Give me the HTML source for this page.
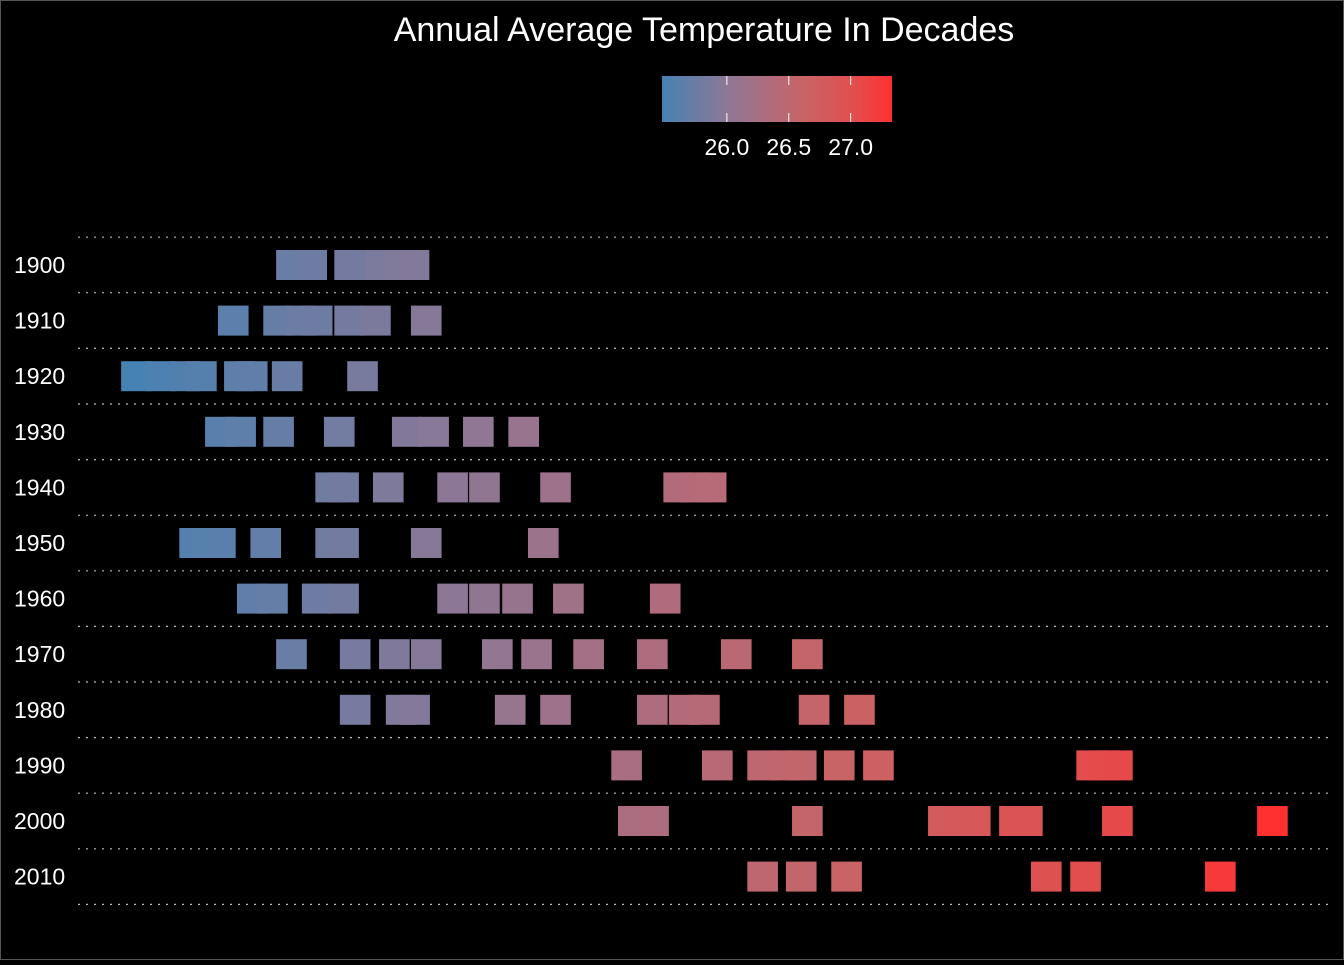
<!DOCTYPE html>
<html><head><meta charset="utf-8"><style>
html,body{margin:0;padding:0;background:#000;}
#wrap{width:1344px;height:960px;position:relative;background:#000;}
svg text{font-family:"Liberation Sans",sans-serif;fill:#fff;}
</style></head><body>
<div id="wrap">
<svg id="chart" width="1344" height="960">
<rect x="0.5" y="0.5" width="1343" height="959" fill="#000" stroke="#555"/>
<text x="704" y="41" font-size="34" text-anchor="middle">Annual Average Temperature In Decades</text>
<defs><linearGradient id="lg" x1="0" x2="1" y1="0" y2="0">
<stop offset="0" stop-color="#4682b4"/><stop offset="0.28" stop-color="#8c7896"/><stop offset="0.5" stop-color="#b66a78"/><stop offset="0.62" stop-color="#c86466"/><stop offset="0.85" stop-color="#e44c4c"/><stop offset="1" stop-color="#ff3030"/>
</linearGradient></defs>
<g id="legend">
<rect x="662" y="76" width="230" height="46" fill="url(#lg)"/>
</g>
<g id="grid"></g><g id="tiles"></g><g id="labels"></g>
</svg></div>
<script>
const decades = ["1900","1910","1920","1930","1940","1950","1960","1970","1980","1990","2000","2010"];
const temps1900 = [25.733,25.766,25.828,25.878,25.905,25.933];
const temps1910 = [25.638,25.712,25.748,25.775,25.828,25.870,25.953];
const temps1920 = [25.480,25.520,25.560,25.586,25.648,25.669,25.726,25.849];
const temps1930 = [25.617,25.650,25.712,25.811,25.922,25.965,26.038,26.112];
const temps1940 = [25.797,25.818,25.891,25.996,26.048,26.164,26.365,26.392,26.418];
const temps1950 = [25.575,25.596,25.617,25.691,25.797,25.818,25.953,26.144];
const temps1960 = [25.669,25.702,25.775,25.818,25.996,26.048,26.102,26.185,26.343];
const temps1970 = [25.733,25.837,25.901,25.953,26.069,26.133,26.218,26.322,26.459,26.575];
const temps1980 = [25.837,25.912,25.934,26.090,26.164,26.322,26.374,26.407,26.586,26.660];
const temps1990 = [26.280,26.428,26.502,26.539,26.565,26.627,26.691,27.039,27.060,27.081];
const temps2000 = [26.291,26.324,26.575,26.797,26.825,26.849,26.913,26.934,27.081,27.334];
const temps2010 = [26.502,26.565,26.639,26.965,27.029,27.249];
const rows = [temps1900,temps1910,temps1920,temps1930,temps1940,temps1950,temps1960,temps1970,temps1980,temps1990,temps2000,temps2010];
const legendTicks = [26.0,26.5,27.0];
const tMin = 25.476, tMax = 27.334, tileW = 0.05;
const NS = "http://www.w3.org/2000/svg";
function xScale(t){ return 134 + (t - tMin) * 612.7; }
function yScale(i){ return 265 + i * 55.6; }
function legX(t){ return 662 + (t - tMin) / (tMax - tMin) * 230; }
const stops=[[0,[70,130,180]],[0.28,[140,120,150]],[0.5,[182,106,120]],[0.62,[200,100,102]],[0.85,[228,76,76]],[1,[255,48,48]]];
function color(t){
  let f=Math.max(0,Math.min(1,(t-tMin)/(tMax-tMin)));
  for(let i=1;i<stops.length;i++){ if(f<=stops[i][0]){const a=stops[i-1],b=stops[i];const u=(f-a[0])/(b[0]-a[0]);
    return "rgb("+a[1].map((v,k)=>Math.round(v+(b[1][k]-v)*u)).join(",")+")";}}
  return "rgb(255,48,48)";
}
const grid=document.getElementById('grid'), tiles=document.getElementById('tiles'), labels=document.getElementById('labels'), legend=document.getElementById('legend');
for(let i=0;i<=decades.length;i++){
  const l=document.createElementNS(NS,'line');
  const y=yScale(i)-27.8;
  l.setAttribute('x1',78);l.setAttribute('x2',1330);l.setAttribute('y1',y);l.setAttribute('y2',y);
  l.setAttribute('stroke','#bbb');l.setAttribute('stroke-width','1.2');l.setAttribute('stroke-dasharray','2 6');
  
  
  grid.appendChild(l);
}
decades.forEach((d,i)=>{
  const tx=document.createElementNS(NS,'text');
  tx.setAttribute('x',14);tx.setAttribute('y',yScale(i)+8);tx.setAttribute('font-size','23');
  tx.textContent=d;
  
  
  labels.appendChild(tx);
  rows[i].forEach(t=>{
    const r=document.createElementNS(NS,'rect');
    const x0=xScale(t-tileW/2), x1=xScale(t+tileW/2);
    r.setAttribute('x',x0);r.setAttribute('width',x1-x0);
    r.setAttribute('y',yScale(i)-15);r.setAttribute('height',30);
    r.setAttribute('fill',color(t));
    
    
    tiles.appendChild(r);
  });
});
legendTicks.forEach(t=>{
  const x=legX(t);
  [[76,85],[113,122]].forEach(s=>{
    const l=document.createElementNS(NS,'line');
    l.setAttribute('x1',x);l.setAttribute('x2',x);l.setAttribute('y1',s[0]);l.setAttribute('y2',s[1]);
    l.setAttribute('stroke','#fff');l.setAttribute('stroke-width','1');
    
    
    legend.appendChild(l);
  });
  const tx=document.createElementNS(NS,'text');
  tx.setAttribute('x',x);tx.setAttribute('y',155);tx.setAttribute('font-size','23');tx.setAttribute('text-anchor','middle');
  tx.textContent=t.toFixed(1);
  
  
  legend.appendChild(tx);
});
</script>
</body></html>
